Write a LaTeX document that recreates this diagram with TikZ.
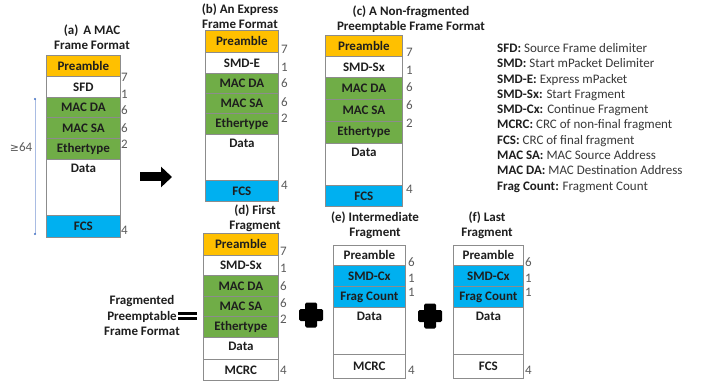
\documentclass[tikz,border=0pt]{standalone}
\usepackage{fontspec}
\setmainfont{Carlito}
\newfontfamily\symfont{DejaVu Sans}
\usetikzlibrary{arrows.meta}
\definecolor{preorange}{HTML}{FFC000}
\definecolor{macgreen}{HTML}{70AD47}
\definecolor{smdblue}{HTML}{00B0F0}
\definecolor{edgegray}{HTML}{8C8C8C}
\definecolor{numgray}{HTML}{5A5A5A}
\definecolor{textdark}{HTML}{1E1E1E}
\definecolor{bracketblue}{HTML}{A9BCE3}
\definecolor{dotblue}{HTML}{4472C4}

\tikzset{
  field/.style={draw=edgegray, line width=0.8pt, anchor=north west, inner sep=0pt,
    minimum width=#1, text=textdark, font=\bfseries\fontsize{13}{15}\selectfont},
  pre/.style={fill=preorange},
  mac/.style={fill=macgreen},
  smd/.style={fill=smdblue},
  blank/.style={fill=white},
  datarow/.style={fill=white, label={[anchor=north, inner sep=0pt, yshift=-4.5pt,
    text=textdark, font=\bfseries\fontsize{13}{15}\selectfont]north:Data}},
  title/.style={align=center, inner sep=0pt, text=textdark, font=\bfseries\fontsize{13}{15}\selectfont},
  num/.style={anchor=west, inner sep=0pt, text=numgray, font=\fontsize{13}{15}\selectfont},
  legendline/.style={anchor=base west, inner sep=0pt, text=black!78, font=\fontsize{13}{15}\selectfont},
}

\begin{document}
\begin{tikzpicture}[x=1pt,y=-1pt]
  \useasboundingbox[fill=white] (0,0) rectangle (708,387);

  % (a) MAC frame
  \node[title] (ta) at (92,37.5) {(a)~\,A MAC\\Frame Format};
  \foreach \n/\top/\h/\kind/\txt in {1/55/21/pre/Preamble, 2/76/21/blank/SFD, 3/97/20/mac/MAC DA,
      4/117/21/mac/MAC SA, 5/138/21/mac/Ethertype, 6/159/56/datarow/{}, 7/215/22/smd/FCS}
    \node[field=74pt, \kind, minimum height=\h pt] (a\n) at (46,\top) {\txt};
  \foreach \y/\v [count=\i] in {77/7, 94/1, 110/6, 128/6, 144/2, 230/4}
    \node[num] (an\i) at (121,\y) {\v};
  \coordinate (brTop) at (35,99);
  \coordinate (brBot) at (35,234);
  \draw[bracketblue, line width=0.7pt] (brTop) -- (brBot);
  \fill[dotblue] (brTop) circle (1.2pt) (brBot) circle (1.2pt);
  \node[num, anchor=center] (ge) at (21,147) {{\symfont\fontsize{11}{13}\selectfont ≥}64};

  % arrow to express frame
  \coordinate (arrS) at (140,177);
  \coordinate (arrE) at (172,177);
  \draw[line width=9pt, -{Triangle[length=11pt,width=20pt]}] (arrS) -- (arrE);

  % (b) express frame
  \node[title] (tb) at (240,16.5) {(b) An Express\\Frame Format};
  \foreach \n/\top/\h/\kind/\txt in {1/30/22/pre/Preamble, 2/52/21/blank/SMD-E, 3/73/20/mac/MAC DA,
      4/93/20/mac/MAC SA, 5/113/21/mac/Ethertype, 6/134/46/datarow/{}, 7/180/21/smd/FCS}
    \node[field=73pt, \kind, minimum height=\h pt] (b\n) at (205,\top) {\txt};
  \foreach \y/\v [count=\i] in {49/7, 67/1, 83/6, 102/6, 118/2, 185/4}
    \node[num] (bn\i) at (281,\y) {\v};

  % (c) non-fragmented preemptable frame
  \node[title] (tc) at (411,19) {(c) A Non-fragmented\\Preemptable Frame Format};
  \foreach \n/\top/\h/\kind/\txt in {1/35/21/pre/Preamble, 2/56/21/blank/SMD-Sx, 3/77/22/mac/MAC DA,
      4/99/22/mac/MAC SA, 5/121/22/mac/Ethertype, 6/143/42/datarow/{}, 7/185/21/smd/FCS}
    \node[field=77pt, \kind, minimum height=\h pt] (c\n) at (325,\top) {\txt};
  \foreach \y/\v [count=\i] in {52/7, 70/1, 87/6, 105/6, 123/2, 189/4}
    \node[num] (cn\i) at (406,\y) {\v};

  % legend
  \foreach \k/\d [count=\i] in {SFD/Source Frame delimiter, SMD/Start mPacket Delimiter,
      SMD-E/Express mPacket, SMD-Sx/Start Fragment, SMD-Cx/Continue Fragment,
      MCRC/CRC of non-final fragment, FCS/CRC of final fragment, MAC SA/MAC Source Address,
      MAC DA/MAC Destination Address, Frag Count/Fragment Count}
    \node[legendline] (leg\i) at (497,{52.5+15.3*(\i-1)}) {\textcolor{textdark}{\textbf{\k:}} \d};

  % fragmented preemptable frame
  \node[title, font=\bfseries\fontsize{13}{15.5}\selectfont] (tfrag) at (142,315.5)
    {Fragmented\\Preemptable\\Frame Format};
  \fill (178,311.5) rectangle (197,315.2);
  \fill (178,316.6) rectangle (197,320.3);

  % (d) first fragment
  \node[title] (td) at (255,218.5) {(d) First\\Fragment};
  \foreach \n/\top/\h/\kind/\txt in {1/233/22/pre/Preamble, 2/255/20/blank/SMD-Sx, 3/275/21/mac/MAC DA,
      4/296/20/mac/MAC SA, 5/316/21/mac/Ethertype, 6/337/22/datarow/{}, 7/359/21/blank/MCRC}
    \node[field=75pt, \kind, minimum height=\h pt] (d\n) at (203,\top) {\txt};
  \foreach \y/\v [count=\i] in {251/7, 268/1, 286/6, 303/6, 319/2, 370/4}
    \node[num] (dn\i) at (280,\y) {\v};

  % plus signs
  \foreach \cx/\cy in {311/315, 430/316} {
    \fill[rounded corners=1.5pt] (\cx-12,\cy-6) rectangle (\cx+12,\cy+6);
    \fill[rounded corners=1.5pt] (\cx-6,\cy-12.5) rectangle (\cx+6,\cy+12.5);
  }

  % (e) intermediate fragment
  \node[title] (te) at (375,225) {(e) Intermediate\\Fragment};
  \foreach \n/\top/\h/\kind/\txt in {1/245/20/blank/Preamble, 2/265/21/smd/SMD-Cx,
      3/286/21/smd/Frag Count, 4/307/47/datarow/{}, 5/354/24/blank/MCRC}
    \node[field=72pt, \kind, minimum height=\h pt] (e\n) at (333,\top) {\txt};
  \foreach \y/\v [count=\i] in {262/6, 278/1, 292/1, 370/4}
    \node[num] (en\i) at (408,\y) {\v};

  % (f) last fragment
  \node[title] (tf) at (487,225) {(f) Last\\Fragment};
  \foreach \n/\top/\h/\kind/\txt in {1/245/20/blank/Preamble, 2/265/21/smd/SMD-Cx,
      3/286/21/smd/Frag Count, 4/307/47/datarow/{}, 5/354/24/blank/FCS}
    \node[field=70pt, \kind, minimum height=\h pt] (f\n) at (453,\top) {\txt};
  \foreach \y/\v [count=\i] in {262/6, 278/1, 292/1, 370/4}
    \node[num] (fn\i) at (525,\y) {\v};
\end{tikzpicture}
\end{document}
